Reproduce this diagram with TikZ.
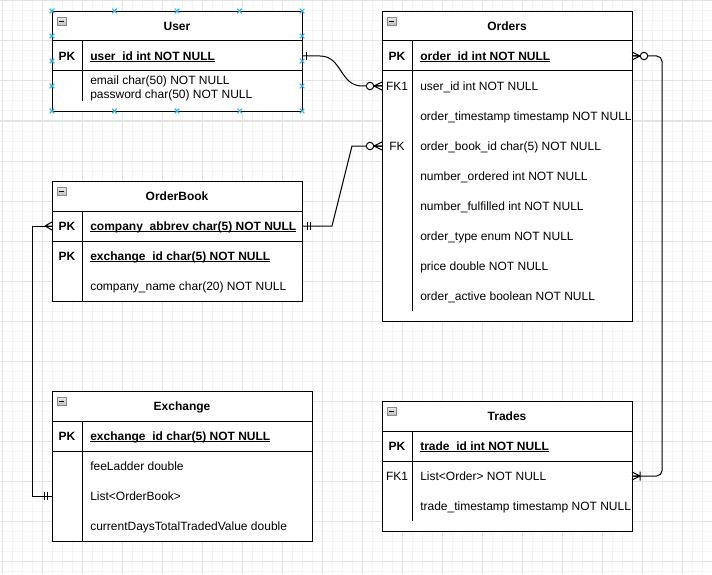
\documentclass[tikz,border=0pt]{standalone}
\usepackage{fontspec}
\setmainfont{Liberation Sans}
\usetikzlibrary{calc}
\definecolor{gmajor}{HTML}{E3E3E3}
\definecolor{gminor}{HTML}{F4F4F4}
\definecolor{handle}{HTML}{29B6F2}
\definecolor{iconborder}{HTML}{8A8A8A}
\newcommand\uln[1]{\setbox0=\hbox{#1}\rlap{\vrule height -0.75pt depth 1.5pt width \wd0}\box0}
\tikzset{
  conn/.style={line width=0.75pt, draw=black},
  tbl/.style={draw=black, line width=0.75pt, fill=white, inner sep=0pt, anchor=north west},
  sep/.style={line width=0.75pt, draw=black},
  ttl/.style={font=\bfseries\fontsize{9}{11}\selectfont, anchor=center, inner sep=0pt, text height=6.6pt, text depth=0pt},
  fld/.style={font=\fontsize{9}{11}\selectfont, anchor=west, inner sep=0pt, text height=6.6pt, text depth=0pt},
  keyl/.style={font=\fontsize{9}{11}\selectfont, anchor=center, inner sep=0pt, text height=6.6pt, text depth=0pt},
  keyb/.style={keyl, font=\bfseries\fontsize{9}{11}\selectfont},
  minbox/.pic={
    \draw[draw=iconborder, line width=0.6pt, top color=white!92!black, bottom color=white!75!black] (-4.3,-4) rectangle (4.3,4);
    \draw[line width=0.75pt] (-2.5,0) -- (2.5,0);
  },
  zmany/.pic={
    \draw[conn] (-8,0) -- (0,-4) (-8,0) -- (0,4) (-8,0) -- (0,0);
    \draw[conn, fill=white] (-12,0) circle[radius=2.8pt];
  },
  many/.pic={
    \draw[conn] (-7,0) -- (0,-4) (-7,0) -- (0,4) (-7,0) -- (0,0);
  },
  onemany/.pic={
    \draw[conn] (-8,0) -- (0,-4) (-8,0) -- (0,4) (-8,0) -- (0,0) (-8,-4.5) -- (-8,4.5);
  },
  one/.pic={
    \draw[conn] (-4,-4) -- (-4,4);
  },
  mandone/.pic={
    \draw[conn] (-5,-4) -- (-5,4) (-8,-4) -- (-8,4);
  },
  hx/.pic={
    \draw[handle, line width=0.8pt] (-2.3,-2.3) -- (2.3,2.3) (-2.3,2.3) -- (2.3,-2.3);
  }
}
\begin{document}
\begin{tikzpicture}[x=0.75pt, y=-0.75pt]
\useasboundingbox (0,0) rectangle (712,574);
\fill[white] (0,0) rectangle (712,574);
% grid
\foreach \i in {2,12,...,712} \draw[gminor, line width=0.75pt] (\i,0) -- (\i,574);
\foreach \j in {1,11,...,574} \draw[gminor, line width=0.75pt] (0,\j) -- (712,\j);
\foreach \i in {2,42,...,712} \draw[gmajor, line width=0.75pt] (\i,0) -- (\i,574);
\foreach \j in {1,41,...,574} \draw[gmajor, line width=0.75pt] (0,\j) -- (712,\j);

% ---------- User ----------
\node[tbl, minimum width=187.5pt, minimum height=75pt] (user) at (52,11) {};
\draw[sep] (52,41) -- (302,41) (52,71) -- (302,71) (82,41) -- (82,101);
\pic at (61.7,21.2) {minbox};
\node[ttl] (userT) at (177,26) {User};
\node[keyb] (userPK) at (67,56) {PK};
\node[fld, font=\bfseries\fontsize{9}{11}\selectfont] (userF1) at (90,56) {\uln{user\_id int NOT NULL}};
\node[fld] (userF2) at (90,80) {email char(50) NOT NULL};
\node[fld] (userF3) at (90,94) {password char(50) NOT NULL};
\coordinate (uPK) at (302,56);

% ---------- Orders ----------
\node[tbl, minimum width=187.5pt, minimum height=232.5pt] (orders) at (382,11) {};
\draw[sep] (382,41) -- (632,41) (382,71) -- (632,71) (412,41) -- (412,311);
\pic at (391.7,21.2) {minbox};
\node[ttl] (ordT) at (507,26) {Orders};
\node[keyb] (ordPK) at (397,56) {PK};
\node[fld, font=\bfseries\fontsize{9}{11}\selectfont] (ordF1) at (420,56) {\uln{order\_id int NOT NULL}};
\node[keyl] (ordK2) at (397,86) {FK1};
\node[fld] (ordF2) at (420,86) {user\_id int NOT NULL};
\node[fld] (ordF3) at (420,116) {order\_timestamp timestamp NOT NULL};
\node[keyl] (ordK4) at (397,146) {FK};
\node[fld] (ordF4) at (420,146) {order\_book\_id char(5) NOT NULL};
\node[fld] (ordF5) at (420,176) {number\_ordered int NOT NULL};
\node[fld] (ordF6) at (420,206) {number\_fulfilled int NOT NULL};
\node[fld] (ordF7) at (420,236) {order\_type enum NOT NULL};
\node[fld] (ordF8) at (420,266) {price double NOT NULL};
\node[fld] (ordF9) at (420,296) {order\_active boolean NOT NULL};
\coordinate (oPK) at (632,56);
\coordinate (oFK1) at (382,86);
\coordinate (oFK) at (382,146);

% ---------- OrderBook ----------
\node[tbl, minimum width=187.5pt, minimum height=90pt] (obook) at (52,181) {};
\draw[sep] (52,211) -- (302,211) (52,241) -- (302,241) (82,211) -- (82,301);
\pic at (61.7,191.2) {minbox};
\node[ttl] (obT) at (177,196) {OrderBook};
\node[keyb] (obK1) at (67,226) {PK};
\node[fld, font=\bfseries\fontsize{9}{11}\selectfont] (obF1) at (90,226) {\uln{company\_abbrev char(5) NOT NULL}};
\node[keyb] (obK2) at (67,256) {PK};
\node[fld, font=\bfseries\fontsize{9}{11}\selectfont] (obF2) at (90,256) {\uln{exchange\_id char(5) NOT NULL}};
\node[fld] (obF3) at (90,286) {company\_name char(20) NOT NULL};
\coordinate (obR) at (302,226);
\coordinate (obL) at (52,226);

% ---------- Exchange ----------
\node[tbl, minimum width=195pt, minimum height=112.5pt] (exch) at (52,391) {};
\draw[sep] (52,421) -- (312,421) (52,451) -- (312,451) (82,421) -- (82,541);
\pic at (61.7,401.2) {minbox};
\node[ttl] (exT) at (182,406) {Exchange};
\node[keyb] (exK1) at (67,436) {PK};
\node[fld, font=\bfseries\fontsize{9}{11}\selectfont] (exF1) at (90,436) {\uln{exchange\_id char(5) NOT NULL}};
\node[fld] (exF2) at (90,466) {feeLadder double};
\node[fld] (exF3) at (90,496) {List<OrderBook>};
\node[fld] (exF4) at (90,526) {currentDaysTotalTradedValue double};
\coordinate (exL) at (52,496);

% ---------- Trades ----------
\node[tbl, minimum width=187.5pt, minimum height=97.5pt] (trades) at (382,401) {};
\draw[sep] (382,431) -- (632,431) (382,461) -- (632,461) (412,431) -- (412,521);
\pic at (391.7,411.2) {minbox};
\node[ttl] (trT) at (507,416) {Trades};
\node[keyb] (trK1) at (397,446) {PK};
\node[fld, font=\bfseries\fontsize{9}{11}\selectfont] (trF1) at (420,446) {\uln{trade\_id int NOT NULL}};
\node[keyl] (trK2) at (397,476) {FK1};
\node[fld] (trF2) at (420,476) {List<Order> NOT NULL};
\node[fld] (trF3) at (420,506) {trade\_timestamp timestamp NOT NULL};
\coordinate (tFK1) at (632,476);

% ---------- connectors ----------
\draw[conn] (uPK) -- ++(18,0) .. controls +(22,0) and +(-22,0) .. ($(oFK1)+(-20,0)$) -- (oFK1);
\draw[conn] (obR) -- ++(30,0) -- ($(oFK)+(-30,0)$) -- (oFK);
\draw[conn, rounded corners=4pt] (oPK) -- ++(30,0) |- (tFK1);
\draw[conn] (obL) -- ++(-20,0) |- (exL);

% ---------- end markers ----------
\pic[rotate=180] at (uPK) {one};
\pic at (oFK1) {zmany};
\pic[rotate=180] at (obR) {mandone};
\pic at (oFK) {zmany};
\pic[rotate=180] at (oPK) {zmany};
\pic[rotate=180] at (tFK1) {onemany};
\pic at (obL) {many};
\pic at (exL) {mandone};

% ---------- selection handles on User ----------
\foreach \hx in {52,114.5,177,239.5,302} {
  \pic at (\hx,11) {hx};
  \pic at (\hx,111) {hx};
}
\foreach \hy in {36,61,86} {
  \pic at (52,\hy) {hx};
  \pic at (302,\hy) {hx};
}
\end{tikzpicture}
\end{document}
